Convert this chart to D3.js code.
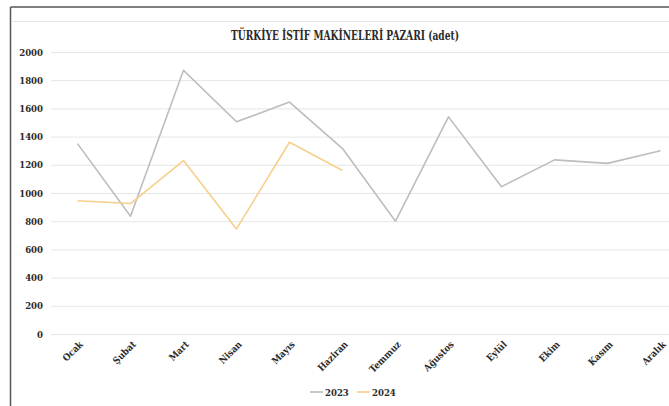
<!DOCTYPE html>
<html>
<head>
<meta charset="utf-8">
<script src="https://cdn.jsdelivr.net/npm/d3@7"></script>
<style>
  body { margin: 0; background: #fff; }
  text { font-family: "DejaVu Serif Condensed", "DejaVu Serif", serif; font-weight: bold; fill: #2b2b2b; }
</style>
</head>
<body>
<script>
// data
const months = ["Ocak", "Şubat", "Mart", "Nisan", "Mayıs", "Haziran",
                "Temmuz", "Ağustos", "Eylül", "Ekim", "Kasım", "Aralık"];
const values2023 = [1350, 835, 1870, 1505, 1645, 1315, 800, 1540, 1045, 1235, 1210, 1300];
const values2024 = [945, 925, 1230, 745, 1360, 1160];
const yTicks = [0, 200, 400, 600, 800, 1000, 1200, 1400, 1600, 1800, 2000];

const series = [
    {name: "2023", values: values2023, color: "#bdbdbd"},
    {name: "2024", values: values2024, color: "#f7cf8c"}
];

const width = 669, height = 406;
const svg = d3.select("body").append("svg")
    .attr("width", width)
    .attr("height", height);

// frame (the chart box is cut off at the right and bottom)
svg.append("line").attr("x1", 10.5).attr("x2", width).attr("y1", 7).attr("y2", 7)
    .attr("stroke", "#555").attr("stroke-width", 1.5);
svg.append("line").attr("x1", 10.5).attr("x2", 10.5).attr("y1", 7).attr("y2", height)
    .attr("stroke", "#555").attr("stroke-width", 1.5);
svg.append("line").attr("x1", 11).attr("x2", width).attr("y1", 21.5).attr("y2", 21.5)
    .attr("stroke", "#e4e4e4").attr("stroke-width", 1);

const x = d3.scaleBand().domain(months).range([51, 687]);
const y = d3.scaleLinear().domain([0, 2000]).range([334, 52]);

// gridlines + y labels
svg.append("g")
    .attr("transform", "translate(51,0)")
    .call(d3.axisLeft(y).tickValues(yTicks).tickFormat(d3.format("d"))
        .tickSize(-(width - 51)).tickPadding(8))
    .call(g => g.select(".domain").remove())
    .call(g => g.selectAll(".tick line").attr("stroke", "#e6e6e6").attr("stroke-width", 1))
    .call(g => g.selectAll(".tick text").attr("font-size", 9.5).attr("fill", null)
        .attr("font-family", null));

// x labels
svg.append("g")
    .attr("transform", "translate(0,334)")
    .call(d3.axisBottom(x).tickSize(0).tickPadding(0))
    .call(g => g.select(".domain").remove())
    .call(g => g.selectAll(".tick text")
        .attr("font-size", 9.5)
        .attr("font-family", null)
        .attr("fill", null)
        .attr("text-anchor", "end")
        .attr("y", 0)
        .attr("dy", 0)
        .attr("transform", "translate(6,11) rotate(-45)"));

// lines
const line = d3.line()
    .x((d, i) => x(months[i]) + x.bandwidth() / 2)
    .y(d => y(d));

series.forEach(s => {
    svg.append("path")
        .datum(s.values)
        .attr("fill", "none")
        .attr("stroke", s.color)
        .attr("stroke-width", 1.6)
        .attr("stroke-linejoin", "round")
        .attr("d", line);
});

// title
svg.append("text")
    .attr("x", 345)
    .attr("y", 40)
    .attr("text-anchor", "middle")
    .attr("font-size", 12)
    .attr("textLength", 228)
    .attr("lengthAdjust", "spacingAndGlyphs")
    .text("TÜRKİYE İSTİF MAKİNELERİ PAZARI (adet)");

// legend
const legend = svg.append("g").attr("transform", "translate(310,392)");
series.forEach((s, i) => {
    const g = legend.append("g").attr("transform", `translate(${i * 47},0)`);
    g.append("line").attr("x1", 0).attr("x2", 13).attr("y1", 0).attr("y2", 0)
        .attr("stroke", s.color).attr("stroke-width", 1.6);
    g.append("text").attr("x", 15).attr("y", 3.5).attr("font-size", 9.5).text(s.name);
});
</script>
</body>
</html>
